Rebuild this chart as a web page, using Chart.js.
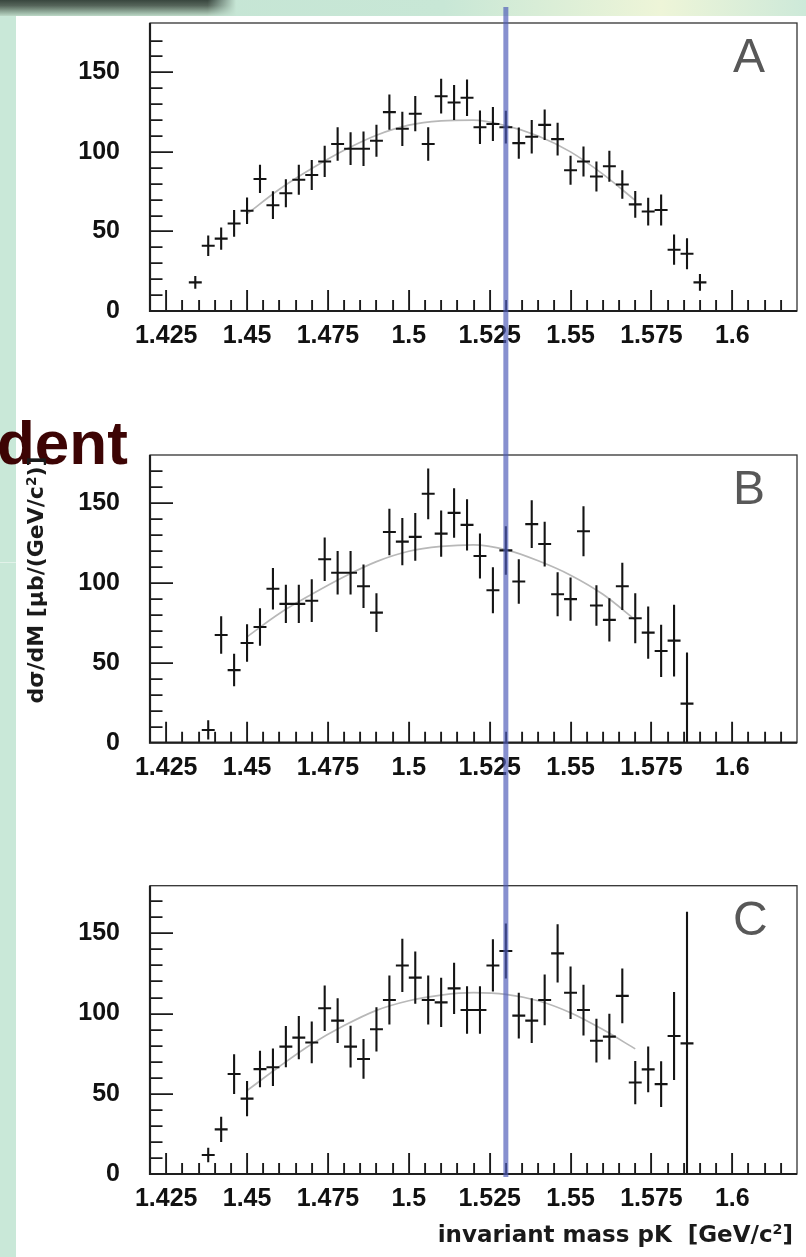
<!DOCTYPE html>
<html><head><meta charset="utf-8">
<script src="https://cdn.jsdelivr.net/npm/chart.js@4.4.1/dist/chart.umd.min.js"></script>
<style>
html,body{margin:0;padding:0;}
body{width:806px;height:1257px;position:relative;overflow:hidden;background:#c9e8d8;font-family:"Liberation Sans",Arial,sans-serif;}
#topband{position:absolute;left:0;top:0;width:806px;height:16px;background:linear-gradient(to right,#c4e4d4 0%,#c8e7d6 55%,#eef5d8 82%,#cde9d9 100%);}
#darkband{position:absolute;left:0;top:0;width:236px;height:16px;background:linear-gradient(to bottom,#38463e 0%,#55645a 35%,#93ad9c 75%,#bcd8c6 100%);-webkit-mask-image:linear-gradient(to right,#000 88%,transparent 100%);mask-image:linear-gradient(to right,#000 88%,transparent 100%);}
#white{position:absolute;left:16px;top:16px;right:0;bottom:0;background:#fff;}
#stripline{position:absolute;left:0;top:562px;width:16px;height:1px;background:#e2f2e9;}
canvas{position:absolute;left:0;}
#dent{position:absolute;left:-3px;top:412px;font:bold 62px/62px "Liberation Sans",Arial,sans-serif;color:#3d0404;white-space:nowrap;}
#ytitle{position:absolute;left:-114px;top:569px;width:300px;height:22px;font:bold 22px/22px "DejaVu Sans",sans-serif;color:#1a1a1a;text-align:center;white-space:nowrap;transform:rotate(-90deg);}
#xtitle{position:absolute;right:13px;top:1223px;height:23px;font:bold 23px/23px "DejaVu Sans",sans-serif;color:#1a1a1a;white-space:nowrap;}
sup{font-size:62%;line-height:0;vertical-align:0.55em;}
</style>
</head><body>
<div id="topband"></div>
<div id="darkband"></div>
<div id="white"></div>
<div id="stripline"></div>
<div id="dent">dent</div>
<canvas id="cA" width="806" height="430" style="top:0px"></canvas>
<canvas id="cB" width="806" height="430" style="top:430px"></canvas>
<canvas id="cC" width="806" height="397" style="top:860px"></canvas>
<div id="ytitle">d&sigma;/dM [&mu;b/(GeV/c<sup>2</sup>)]</div>
<div id="xtitle">invariant mass pK&nbsp;&nbsp;[GeV/c<sup>2</sup>]</div>
<script>
// ---- tick labels ----
const xTickVals = [1.425, 1.45, 1.475, 1.5, 1.525, 1.55, 1.575, 1.6];
const xTickLabels = ['1.425', '1.45', '1.475', '1.5', '1.525', '1.55', '1.575', '1.6'];
const yTickVals = [0, 50, 100, 150];
const yTickLabels = ['0', '50', '100', '150'];
const markerX = 1.53;
const BIN_HALF = 0.002;

// ---- panel A ----
const xA = [1.434,1.438,1.442,1.446,1.450,1.454,1.458,1.462,1.466,1.470,1.474,1.478,1.482,1.486,1.490,1.494,1.498,1.502,1.506,1.510,1.514,1.518,1.522,1.526,1.530,1.534,1.538,1.542,1.546,1.550,1.554,1.558,1.562,1.566,1.570,1.574,1.578,1.582,1.586,1.590,1.598];
const yA = [18,41,45.5,55,63,83,66.5,74,82.5,85.5,94,105,102,102,107,125,114.5,124,105,135,131,134,115.5,117.5,115.5,105.5,109.5,117,108,88.5,94,84.5,91,79.5,67,62.5,63.5,38.5,36,18,0];
const eA = [4,6.5,7,8.4,8.4,8.9,8.7,8.8,9.4,9.4,9.8,10.5,10.3,10.8,10,11.1,10.8,11.1,10.5,10.9,11,11.5,10.5,10.7,10.3,9.8,10.5,9.6,10.3,9.1,9.4,9.4,9.7,8.9,8.4,8.7,9.7,9.5,9.7,5.2,0];

// ---- panel B ----
const xB = [1.438,1.442,1.446,1.450,1.454,1.458,1.462,1.466,1.470,1.474,1.478,1.482,1.486,1.490,1.494,1.498,1.502,1.506,1.510,1.514,1.518,1.522,1.526,1.530,1.534,1.538,1.542,1.546,1.550,1.554,1.558,1.562,1.566,1.570,1.574,1.578,1.582,1.586];
const yB = [8,67.5,45.5,62.5,72.5,96.5,87,87,89,115,106.5,106.5,98,81.5,132,126,129,156,131,144,136.5,117,95.5,120.5,101,137,124.5,93,90,132.5,86,77,98,78,69,57.5,64,24.5];
const eB = [6,11.7,10.2,11.7,11.8,13,12,12,13.4,13.6,13.6,13.6,13.6,12.1,14.6,14.8,14.9,15.9,14.5,15.5,16,14.1,14.4,15.2,13.9,15,14,13.8,13.6,15.7,12.7,13.6,14.8,15.7,16.4,16.4,22.5,32];

// ---- panel C ----
const xC = [1.438,1.442,1.446,1.450,1.454,1.458,1.462,1.466,1.470,1.474,1.478,1.482,1.486,1.490,1.494,1.498,1.502,1.506,1.510,1.514,1.518,1.522,1.526,1.530,1.534,1.538,1.542,1.546,1.550,1.554,1.558,1.562,1.566,1.570,1.574,1.578,1.582,1.586];
const yC = [11.8,27.8,62.3,47,65.4,66.5,79.4,85,82,103.3,95.6,79.4,71.7,90.2,108.5,130,122.4,108.5,107,115.7,102.2,102.2,130,139,98.7,95.6,108.5,137.5,113,102.2,83.1,85.6,111,57,65.2,56,86,81.4];
const eC = [4.5,7.9,12.4,11,11.4,11.7,12.8,13.5,13,14.2,14,13,12.4,13.8,15.3,16.6,16.3,15.3,15.3,15.9,14.8,14.8,16.3,17.1,14.2,14,15.8,18.2,16.4,15.8,13.6,14.3,17.1,13.5,14.2,14.3,27.4,82];

// ---- fit curves ----
const fitX = [1.45,1.46,1.47,1.48,1.49,1.50,1.51,1.52,1.53,1.54,1.55,1.56,1.57];
const fitA = [61,76.5,89.5,101,110.5,116.8,119.5,120,116.5,110,100,86,69.5];
const fitB = [66.4,81,93,104,113.5,120,123,124,121,114,105,93,77];
const fitC = [52,67,81,92.5,102,108,111.5,113,112,108,100.5,90,78];

const tickFont = {family:'"Liberation Sans", Arial, sans-serif', weight:'bold', size:25};

const framePlugin = {
  id:'rootFrame',
  afterDatasetsDraw(chart, args, opts){
    const {ctx, chartArea:a, scales:{x, y}} = chart;
    ctx.save();
    ctx.strokeStyle = '#1a1a1a';
    ctx.lineWidth = 1.9;
    ctx.beginPath();
    for (let k = 0; k <= 38; k++) {
      const v = 1.425 + k * 0.005;
      const px = Math.round(x.getPixelForValue(v)) + 0.1;
      const len = (k % 5 === 0) ? 21 : 11;
      ctx.moveTo(px, a.bottom); ctx.lineTo(px, a.bottom - len);
    }
    for (let k = 1; k <= 17; k++) {
      const v = k * 10;
      const py = Math.round(y.getPixelForValue(v)) + 0.1;
      const len = (k % 5 === 0) ? 23 : 12.5;
      ctx.moveTo(a.left, py); ctx.lineTo(a.left + len, py);
    }
    ctx.stroke();
    ctx.lineWidth = 1.3;
    ctx.strokeStyle = '#333';
    ctx.strokeRect(a.left, a.top, a.right - a.left, a.bottom - a.top);
    ctx.lineWidth = 2.2;
    ctx.strokeStyle = '#1e1e1e';
    ctx.beginPath();
    ctx.moveTo(a.left, a.top); ctx.lineTo(a.left, a.bottom); ctx.lineTo(a.right, a.bottom);
    ctx.stroke();
    ctx.fillStyle = '#585858';
    ctx.font = '48px "Liberation Sans", Arial, sans-serif';
    ctx.textBaseline = 'alphabetic';
    ctx.textAlign = 'left';
    ctx.fillText(opts.letter, a.right - 64, a.top + 49);
    ctx.restore();
  }
};

const bluePlugin = {
  id:'blueLine',
  afterDraw(chart, args, opts){
    const {ctx, scales:{x}} = chart;
    const px = x.getPixelForValue(markerX);
    ctx.save();
    ctx.fillStyle = 'rgba(78,92,184,0.68)';
    ctx.fillRect(px - 2.5, opts.top, 5, opts.bottom - opts.top);
    ctx.restore();
  }
};

function makeChart(canvasId, xs, ys, es, fitY, letter, yMax, padTop, xAxisH, blueTop, blueBottom){
  const vData = [], hData = [];
  xs.forEach((x, i) => {
    vData.push({x:x, y:ys[i] - es[i]}, {x:x, y:ys[i] + es[i]}, {x:x, y:null});
    hData.push({x:x - BIN_HALF, y:ys[i]}, {x:x + BIN_HALF, y:ys[i]}, {x:x + BIN_HALF, y:null});
  });
  const fitData = fitX.map((x, i) => ({x:x, y:fitY[i]}));
  return new Chart(document.getElementById(canvasId), {
    type:'scatter',
    data:{datasets:[
      {data:vData, showLine:true, spanGaps:false, borderColor:'#141414', borderWidth:2.1, pointRadius:0, tension:0},
      {data:hData, showLine:true, spanGaps:false, borderColor:'#141414', borderWidth:2.1, pointRadius:0, tension:0},
      {data:fitData, showLine:true, borderColor:'#b8b8b8', borderWidth:1.7, pointRadius:0, cubicInterpolationMode:'monotone'}
    ]},
    options:{
      responsive:false, animation:false, events:[],
      layout:{padding:{left:0, right:9, top:padTop, bottom:0}},
      plugins:{legend:{display:false}, tooltip:{enabled:false}, rootFrame:{letter:letter}, blueLine:{top:blueTop, bottom:blueBottom}},
      scales:{
        x:{type:'linear', min:1.42, max:1.62,
          grid:{display:false, drawTicks:false}, border:{display:false},
          afterBuildTicks(s){ s.ticks = xTickVals.map(v => ({value:v})); },
          afterFit(s){ s.height = xAxisH; s.paddingLeft = 0; s.paddingRight = 0; },
          ticks:{autoSkip:false, maxRotation:0, minRotation:0, padding:10, color:'#111', font:tickFont,
            callback:(v, i) => xTickLabels[i]}
        },
        y:{type:'linear', min:0, max:yMax,
          grid:{display:false, drawTicks:false}, border:{display:false},
          afterBuildTicks(s){ s.ticks = yTickVals.map(v => ({value:v})); },
          afterFit(s){ s.width = 150; s.paddingTop = 0; s.paddingBottom = 0; },
          ticks:{padding:30, color:'#111', font:tickFont,
            callback:(v, i) => yTickLabels[i]}
        }
      }
    },
    plugins:[framePlugin, bluePlugin]
  });
}

makeChart('cA', xA, yA, eA, fitA, 'A', 181, 23, 119, 7, 430);
makeChart('cB', xB, yB, eB, fitB, 'B', 180.3, 25, 117.3, 0, 430);
makeChart('cC', xC, yC, eC, fitC, 'C', 179.7, 25.7, 83, 0, 317);
</script>
</body></html>
